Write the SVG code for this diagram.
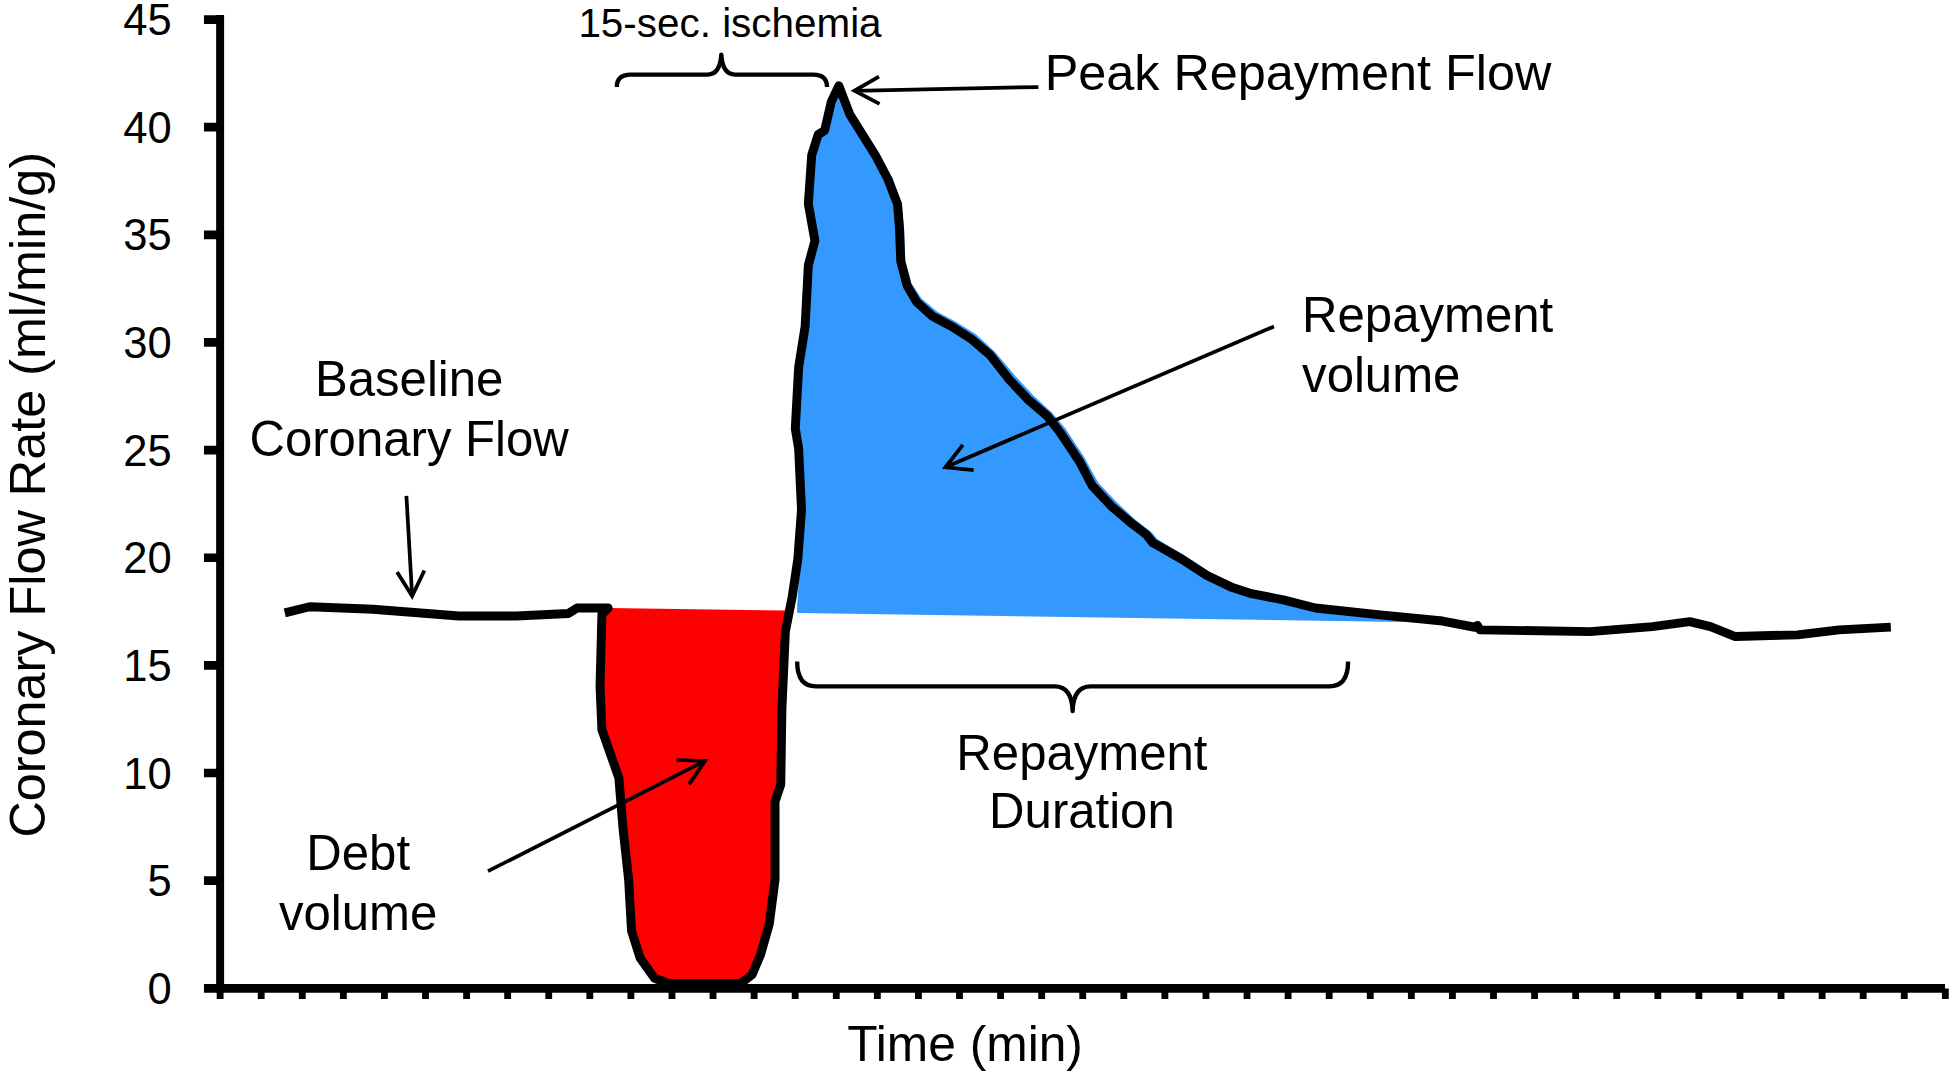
<svg xmlns="http://www.w3.org/2000/svg" width="1950" height="1073" viewBox="0 0 1950 1073">
<defs>
<style>
text{font-family:"Liberation Sans",Arial,sans-serif;fill:#000}
.lbl{font-size:39.5px}
.tick{font-size:35px;text-anchor:end}
.ax{stroke:#000;fill:none}
.curve{fill:none;stroke:#000;stroke-width:7.2;stroke-linejoin:round;stroke-linecap:butt}
.brace{fill:none;stroke:#000;stroke-width:3.5;stroke-linejoin:round}
.arr{fill:none;stroke:#000;stroke-width:3;marker-end:url(#ah)}
</style>
<marker id="ah" viewBox="0 0 24 24" refX="22" refY="12" markerWidth="24" markerHeight="24" markerUnits="userSpaceOnUse" orient="auto" overflow="visible">
<path d="M2,1 L22,12 L2,23" fill="none" stroke="#000" stroke-width="3" stroke-linejoin="miter"/>
</marker>
</defs>
<rect width="1950" height="1073" fill="#fff"/>
<g transform="scale(1.24362 1.24334)">
<g id="areas">
<polygon id="debt-area" fill="#ff0000" points="489,489 633,491 631.5,508 628.7,571 627.8,631 623.2,644.6 623.2,707.5 618.6,743 611.6,767.7 604.7,784 595.5,791 537.8,791 526.3,786.8 514.7,770.4 507.8,748.6 505.5,707.5 501,666.5 497.6,625.5 484,587 482.5,552 484,494"/>
<polygon id="repayment-area" fill="#3399ff" points="641,493 641,486 646,410 644,361 642,345 645,295 650,263 653,213 657,194 652,164 655,125 660,108 665,105 670,82 676,66 686,91 696,107 707,124 718,144 725,164 727,184 728,210 733,228 741,240 754,251 769,259 785,269 800,283 816,302 831,318 846,332 857,345 872,368 883,388 898,404 913,418 926,428 931,434 953,447 973,460 993,470 1008,475 1034,480 1059,487 1110,492 1160,497 1180,501"/>
</g>
<g id="axes">
<line class="ax" x1="177" y1="12" x2="177" y2="798" stroke-width="6.4"/>
<line class="ax" x1="164" y1="795" x2="1564" y2="795" stroke-width="7"/>
<path class="ax" stroke-width="7" d="M164,15.8H177M164,102.3H177M164,188.9H177M164,275.4H177M164,362H177M164,448.6H177M164,535.1H177M164,621.7H177M164,708.2H177"/>
<path class="ax" stroke-width="5.5" d="M177,795v8.5M210.03,795v8.5M243.06,795v8.5M276.09,795v8.5M309.12,795v8.5M342.15,795v8.5M375.18,795v8.5M408.21,795v8.5M441.24,795v8.5M474.27,795v8.5M507.3,795v8.5M540.33,795v8.5M573.36,795v8.5M606.39,795v8.5M639.42,795v8.5M672.45,795v8.5M705.48,795v8.5M738.51,795v8.5M771.54,795v8.5M804.57,795v8.5M837.6,795v8.5M870.63,795v8.5M903.66,795v8.5M936.69,795v8.5M969.72,795v8.5M1002.75,795v8.5M1035.78,795v8.5M1068.81,795v8.5M1101.84,795v8.5M1134.87,795v8.5M1167.9,795v8.5M1200.93,795v8.5M1233.96,795v8.5M1266.99,795v8.5M1300.02,795v8.5M1333.05,795v8.5M1366.08,795v8.5M1399.11,795v8.5M1432.14,795v8.5M1465.17,795v8.5M1498.2,795v8.5M1531.23,795v8.5M1564.26,795v8.5"/>
<text class="tick" x="138" y="28.3">45</text>
<text class="tick" x="138" y="114.8">40</text>
<text class="tick" x="138" y="201.4">35</text>
<text class="tick" x="138" y="287.9">30</text>
<text class="tick" x="138" y="374.5">25</text>
<text class="tick" x="138" y="461.1">20</text>
<text class="tick" x="138" y="547.6">15</text>
<text class="tick" x="138" y="634.2">10</text>
<text class="tick" x="138" y="720.7">5</text>
<text class="tick" x="138" y="807.3">0</text>
<text id="y-title" transform="translate(36,398) rotate(-90)" text-anchor="middle" font-size="40.5">Coronary Flow Rate (ml/min/g)</text>
<text id="x-title" x="776" y="853" text-anchor="middle" font-size="40">Time (min)</text>
</g>
<g id="flow-curve">
<polyline class="curve" points="229,493 249,488 300,490 369,495.5 415,495.5 457,493.5 464,489 489,489 484,494 482.5,552 484,587 497.6,625.5 501,666.5 505.5,707.5 507.8,748.6 514.7,770.4 526.3,786.8 537.8,791 595.5,791 604.7,784 611.6,767.7 618.6,743 623.2,707.5 623.2,644.6 627.8,631 628.7,571 631.5,508 637,480 641.5,450 644.5,410 642.2,361 639.5,344.6 642.2,295.4 647.4,262.6 650,213.3 655.3,193.6 650,164.1 652.7,124.7 657.9,108.3 663.1,105 668.4,82 674.5,69 683.3,91.9 693.5,108.3 703.8,124.7 714.1,144.4 721.7,164.1 723.3,183.8 724.3,210 729.4,229.7 737.1,242.9 749.9,254.4 765.3,262.6 780.7,272.4 796.1,285.5 811.5,305.2 826.9,321.6 842.3,334.8 852.5,347.9 867.9,370.9 878.2,390.6 893.5,407 908.9,420.1 921.7,429.9 926.9,436.5 950,449.6 970.5,462.8 991,472.6 1006.4,477.5 1032,482.5 1057.6,489 1110,494.5 1160,499.5 1186,504.5 1188,503 1190,506.6 1278.7,508 1328.8,504 1358.7,500 1375.4,504 1395.4,512 1445.4,510.6 1478.8,506.6 1520.4,504.4"/>
</g>
<g id="ischemia-brace">
<path class="brace" d="M496,70 Q496,60 507,60 L569,60 Q579,60 580,44 Q581,60 591,60 L654,60 Q665,60 665,70"/>
<text x="587" y="29.5" text-anchor="middle" font-size="32.5">15-sec. ischemia</text>
</g>
<g id="duration-brace">
<path class="brace" d="M641,532 Q641,552 656,552 L848,552 Q862,552 862.5,572 Q863,552 877,552 L1069,552 Q1084,552 1084,532"/>
<text class="lbl" x="870" y="619" text-anchor="middle">Repayment</text>
<text class="lbl" x="870" y="666" text-anchor="middle">Duration</text>
</g>
<g id="peak-label">
<text x="840" y="72" font-size="40.5">Peak Repayment Flow</text>
</g>
<g id="baseline-label">
<text class="lbl" x="329" y="318.5" text-anchor="middle">Baseline</text>
<text class="lbl" x="329" y="367" text-anchor="middle">Coronary Flow</text>
</g>
<g id="repayment-volume-label">
<text class="lbl" x="1047" y="266.7">Repayment</text>
<text class="lbl" x="1047" y="315">volume</text>
</g>
<g id="debt-label">
<text class="lbl" x="288" y="699.4" text-anchor="middle">Debt</text>
<text class="lbl" x="288" y="748" text-anchor="middle">volume</text>
</g>
<g id="connectors">
<line class="arr" x1="835" y1="70" x2="687" y2="73"/>
<line class="arr" x1="326.8" y1="398.8" x2="331.4" y2="479.4"/>
<line class="arr" x1="1024.4" y1="262.6" x2="760.2" y2="375.8"/>
<line class="arr" x1="392.4" y1="700.7" x2="566.9" y2="612"/>
</g>
</g>
</svg>
